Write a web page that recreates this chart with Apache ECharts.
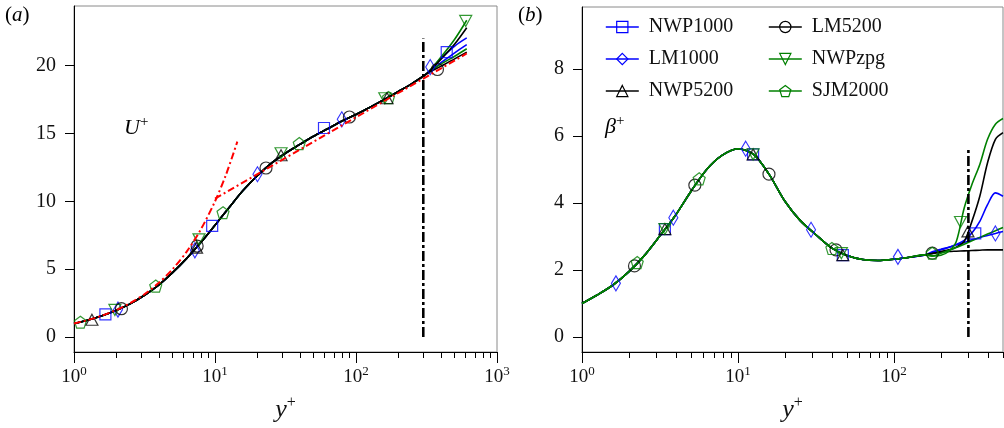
<!DOCTYPE html>
<html><head><meta charset="utf-8">
<script src="https://cdn.jsdelivr.net/npm/echarts@6/dist/echarts.min.js"></script>
<style>html,body{margin:0;padding:0;background:#fff}#c{width:1004px;height:428px}</style>
</head><body><div id="c"></div>
<script>
// ---------------- DATA ----------------
const seriesNames = ['NWP1000', 'LM1000', 'NWP5200', 'LM5200', 'NWPzpg', 'SJM2000'];

// Panel (a): U+ vs y+ (common near-wall part, up to y+ ~ 316)
const yPlusA = [1, 1.26, 1.58, 2, 2.5, 3.16, 4, 5, 6.3, 7.9, 10, 12.6, 15.8, 20, 25, 31.6, 40, 50, 63, 79, 100, 126, 158, 200, 251, 316];
const uPlusBase = [1.0, 1.26, 1.57, 1.98, 2.45, 3.08, 3.85, 4.75, 5.8, 6.95, 8.25, 9.55, 10.8, 11.9, 12.8, 13.55, 14.2, 14.8, 15.35, 15.9, 16.4, 16.95, 17.5, 18.1, 18.7, 19.4];
// Outer parts (y+ > 316)
const tailYA = [398, 501, 610];
const tailUA = {
  NWP1000: [20.5, 21.45, 22.05],
  LM1000:  [20.2, 20.95, 21.55],
  NWP5200: [20.45, 21.6, 22.8],
  LM5200:  [19.95, 20.5, 21.0],
  NWPzpg:  [20.6, 21.95, 23.35],
  SJM2000: [20.1, 20.7, 21.25]
};
// Markers in panel (a)
const markYA = {
  NWP1000: [1.67, 9.55, 59.3, 440],
  LM1000:  [2.05, 7.2, 20, 79.3, 336],
  NWP5200: [1.34, 7.4, 29.4, 166],
  LM5200:  [2.17, 7.47, 23, 89.8, 378],
  NWPzpg:  [1.95, 7.7, 29.4, 160, 600],
  SJM2000: [1.11, 3.8, 11.4, 39.6, 170]
};
const markUA = {
  NWP1000: [1.67, 8.19, 15.41, 21.0],
  LM1000:  [2.02, 6.39, 12.0, 16.05, 19.9],
  NWP5200: [1.28, 6.59, 13.4, 17.6],
  LM5200:  [2.09, 6.71, 12.46, 16.22, 19.72],
  NWPzpg:  [2.0, 7.2, 13.55, 17.6, 23.3],
  SJM2000: [1.1, 3.76, 9.17, 14.26, 17.65]
};
// Red reference lines in (a)
const viscY = [1, 1.26, 1.58, 2, 2.5, 3.16, 4, 5, 6.3, 7.9, 10, 12, 14.4];
const viscU = [1, 1.26, 1.58, 2, 2.5, 3.16, 4, 5, 6.3, 7.9, 10, 12, 14.4];
const logLawY = [10, 610];
const logLawU = [10.2, 20.9];

// Panel (b): beta+ vs y+ (common part, up to y+ ~ 158)
const yPlusB = [1, 1.26, 1.58, 2, 2.5, 3.16, 4, 5, 6.3, 7.9, 10, 12.6, 15.8, 20, 25, 31.6, 40, 50, 63, 79, 100, 126, 158];
const betaBase = [1.0, 1.26, 1.55, 1.95, 2.42, 3.02, 3.65, 4.35, 5.0, 5.42, 5.62, 5.45, 4.86, 4.05, 3.48, 3.05, 2.65, 2.43, 2.31, 2.28, 2.32, 2.38, 2.45];
const tailYB = [178, 200, 224, 251, 282, 316, 355, 398, 447, 500];
const tailBB = {
  NWP1000: [2.52, 2.6, 2.67, 2.76, 2.88, 3.1, 3.45, 3.95, 4.3, 4.2],
  LM1000:  [2.55, 2.62, 2.68, 2.75, 2.82, 2.9, 2.97, 3.03, 3.09, 3.15],
  NWP5200: [2.49, 2.55, 2.6, 2.68, 2.85, 3.45, 4.2, 5.2, 5.9, 6.1],
  LM5200:  [2.5, 2.53, 2.55, 2.56, 2.57, 2.58, 2.59, 2.6, 2.6, 2.6],
  NWPzpg:  [2.42, 2.44, 2.55, 2.85, 3.85, 4.55, 5.15, 5.9, 6.35, 6.52],
  SJM2000: [2.42, 2.5, 2.58, 2.67, 2.77, 2.87, 2.97, 3.07, 3.17, 3.27]
};
const markYB = {
  NWP1000: [3.4, 12.5, 47, 332],
  LM1000:  [1.65, 3.85, 11.2, 29.4, 106, 447],
  NWP5200: [3.4, 12.5, 47, 298],
  LM5200:  [2.17, 5.29, 15.8, 42.5, 176],
  NWPzpg:  [3.4, 12.5, 46, 267],
  SJM2000: [2.26, 5.64, 40, 176]
};
const markBB = {
  NWP1000: [3.22, 5.45, 2.44, 3.09],
  LM1000:  [1.6, 3.56, 5.62, 3.2, 2.39, 3.09],
  NWP5200: [3.22, 5.45, 2.44, 3.15],
  LM5200:  [2.12, 4.53, 4.86, 2.6, 2.5],
  NWPzpg:  [3.22, 5.45, 2.5, 3.43],
  SJM2000: [2.22, 4.72, 2.64, 2.5]
};
// Vertical dash-dot lines at y+ = 300
const vLineX = [300, 300];
const vLineA = [0, 22];
const vLineB = [0, 5.65];

// Axis ticks
const xMajorA = [1, 10, 100, 1000];
const xMinorA = [2, 3, 4, 5, 6, 7, 8, 9, 20, 30, 40, 50, 60, 70, 80, 90, 200, 300, 400, 500, 600, 700, 800, 900];
const xMajorB = [1, 10, 100];
const xMinorB = [2, 3, 4, 5, 6, 7, 8, 9, 20, 30, 40, 50, 60, 70, 80, 90, 200, 300, 400, 500];
const yTicksA = [0, 5, 10, 15, 20];
const yTicksB = [0, 2, 4, 6, 8];

// ---------------- STYLE ----------------
const FONT = 'Liberation Serif';
const colors = { NWP1000: '#0000ff', LM1000: '#0000ff', NWP5200: '#000000', LM5200: '#000000', NWPzpg: '#008000', SJM2000: '#008000' };
const pent = 'path://M0,-1 L0.951,-0.309 L0.588,0.809 L-0.588,0.809 L-0.951,-0.309 Z';
const symbols = { NWP1000: 'rect', LM1000: 'diamond', NWP5200: 'triangle', LM5200: 'circle', NWPzpg: 'triangle', SJM2000: pent };
const symRot = { NWP1000: 0, LM1000: 0, NWP5200: 0, LM5200: 0, NWPzpg: 180, SJM2000: 0 };
const symSize = { NWP1000: [11, 11], LM1000: [9, 15], NWP5200: [12, 11], LM5200: [12, 12], NWPzpg: [12, 11], SJM2000: [12, 12] };

function zip(xs, ys) { return xs.map((x, i) => [x, ys[i]]); }

const series = [];
function addPanel(xIdx, yIdx, baseX, baseY, tX, tY, mX, mY, order) {
  order.forEach(n => {
    series.push({
      type: 'line', name: n, xAxisIndex: xIdx, yAxisIndex: yIdx,
      data: zip(baseX.concat(tX), baseY.concat(tY[n])),
      showSymbol: false, symbol: symbols[n], symbolRotate: symRot[n],
      smooth: 0.3,
      lineStyle: { color: colors[n], width: 1.6 },
      itemStyle: { color: 'none', borderColor: colors[n], borderWidth: 1.2 },
      emphasis: { disabled: true }, silent: true, z: 3
    });
  });
  order.forEach(n => {
    series.push({
      type: 'scatter', name: n, xAxisIndex: xIdx, yAxisIndex: yIdx,
      data: zip(mX[n], mY[n]),
      symbol: symbols[n], symbolRotate: symRot[n], symbolSize: symSize[n],
      itemStyle: { color: 'none', borderColor: colors[n], borderWidth: 1.2 },
      emphasis: { disabled: true }, silent: true, z: 4
    });
  });
}
addPanel(0, 0, yPlusA, uPlusBase, tailYA, tailUA, markYA, markUA,
  ['NWP1000', 'LM1000', 'NWPzpg', 'SJM2000', 'NWP5200', 'LM5200']);
addPanel(2, 1, yPlusB, betaBase, tailYB, tailBB, markYB, markBB,
  ['NWP1000', 'LM1000', 'NWP5200', 'LM5200', 'NWPzpg', 'SJM2000']);

const dashRed = { color: '#ff0000', width: 2, type: [7, 3, 2, 3] };
const dashBlack = { color: '#000', width: 2.6, type: [10, 3, 3, 3] };
series.push({ type: 'line', name: 'viscous', xAxisIndex: 0, yAxisIndex: 0, data: zip(viscY, viscU), symbol: 'none', smooth: 0.3,
  lineStyle: dashRed, silent: true, z: 5 });
series.push({ type: 'line', name: 'loglaw', xAxisIndex: 0, yAxisIndex: 0, data: zip(logLawY, logLawU), symbol: 'none',
  lineStyle: dashRed, silent: true, z: 5 });
series.push({ type: 'line', name: 'vA', xAxisIndex: 0, yAxisIndex: 0, data: zip(vLineX, vLineA), symbol: 'none',
  lineStyle: dashBlack, silent: true, z: 6 });
series.push({ type: 'line', name: 'vB', xAxisIndex: 2, yAxisIndex: 1, data: zip(vLineX, vLineB), symbol: 'none',
  lineStyle: dashBlack, silent: true, z: 6 });

const supRich = {
  b: { fontFamily: FONT, fontSize: 19, color: '#111', lineHeight: 22, verticalAlign: 'bottom' },
  s: { fontFamily: FONT, fontSize: 13, color: '#111', lineHeight: 13, verticalAlign: 'top' }
};
const nameRich = {
  i: { fontFamily: FONT, fontStyle: 'italic', fontSize: 26, color: '#111', lineHeight: 28, verticalAlign: 'bottom' },
  s: { fontFamily: FONT, fontSize: 16, color: '#111', lineHeight: 16, verticalAlign: 'top' }
};

function xMain(grid, min, max, major) {
  return {
    type: 'log', logBase: 10, gridIndex: grid, min: min, max: max, position: 'bottom',
    axisLine: { show: true, onZero: false, lineStyle: { color: '#000', width: 1 } },
    axisTick: { show: true, length: 11, customValues: major, lineStyle: { color: '#000', width: 1 } },
    axisLabel: { show: true, customValues: major, margin: 13, color: '#111',
      formatter: v => '{b|10}{s|' + Math.round(Math.log10(v)) + '}', rich: supRich },
    splitLine: { show: false }, minorTick: { show: false },
    name: '{i|y}{s|+}', nameLocation: 'middle', nameGap: 43,
    nameTextStyle: { rich: nameRich }
  };
}
function xMinor(grid, min, max, minor) {
  return {
    type: 'log', logBase: 10, gridIndex: grid, min: min, max: max, position: 'bottom',
    axisLine: { show: false, onZero: false },
    axisTick: { show: true, length: 6, customValues: minor, lineStyle: { color: '#000', width: 1 } },
    axisLabel: { show: false }, splitLine: { show: false }
  };
}
function yMain(grid, min, max, ticks) {
  return {
    type: 'value', gridIndex: grid, min: min, max: max, position: 'left',
    axisLine: { show: true, onZero: false, lineStyle: { color: '#000', width: 1 } },
    axisTick: { show: true, length: 9, customValues: ticks, lineStyle: { color: '#000', width: 1 } },
    axisLabel: { show: true, customValues: ticks, margin: 18, fontFamily: FONT, fontSize: 20, color: '#111' },
    splitLine: { show: false }
  };
}

const legendCommon = {
  orient: 'vertical', itemWidth: 33, itemHeight: 14, itemGap: 12, padding: 0,
  textStyle: { fontFamily: FONT, fontSize: 20, color: '#111', lineHeight: 20, padding: [0, 0, 0, 5] },
  selectedMode: false
};
function legendData(names) {
  return names.map(n => ({ name: n, itemStyle: { color: 'none', borderColor: colors[n], borderWidth: 1.2 },
    lineStyle: { color: colors[n], width: 1.6 } }));
}

const rich3 = {
  n: { fontFamily: FONT, fontSize: 21, color: '#111' },
  i: { fontFamily: FONT, fontStyle: 'italic', fontSize: 21, color: '#111' }
};
const richLbl = {
  i: { fontFamily: FONT, fontStyle: 'italic', fontSize: 22, color: '#111', lineHeight: 24, verticalAlign: 'bottom' },
  s: { fontFamily: FONT, fontSize: 15, color: '#111', lineHeight: 15, verticalAlign: 'top' }
};

const option = {
  animation: false,
  backgroundColor: '#fff',
  grid: [
    { left: 74, top: 6, width: 423, height: 346, show: true, borderColor: '#8a8a8a', borderWidth: 1, containLabel: false },
    { left: 582, top: 7, width: 421, height: 345, show: true, borderColor: '#8a8a8a', borderWidth: 1, containLabel: false }
  ],
  xAxis: [
    xMain(0, 1, 1000, xMajorA), xMinor(0, 1, 1000, xMinorA),
    xMain(1, 1, 500, xMajorB), xMinor(1, 1, 500, xMinorB)
  ],
  yAxis: [ yMain(0, -1.1, 24.4, yTicksA), yMain(1, -0.45, 9.85, yTicksB) ],
  legend: [
    Object.assign({ left: 605, top: 17, data: legendData(['NWP1000', 'LM1000', 'NWP5200']) }, legendCommon),
    Object.assign({ left: 768, top: 17, data: legendData(['LM5200', 'NWPzpg', 'SJM2000']) }, legendCommon)
  ],
  graphic: [
    { type: 'text', left: 5, top: 5, style: { text: '{n|(}{i|a}{n|)}', rich: rich3 } },
    { type: 'text', left: 518, top: 5, style: { text: '{n|(}{i|b}{n|)}', rich: rich3 } },
    { type: 'text', left: 124, top: 115, style: { text: '{i|U}{s|+}', rich: richLbl } },
    { type: 'text', left: 605, top: 114, style: { text: '{i|β}{s|+}', rich: richLbl } }
  ],
  series: series
};

const chart = echarts.init(document.getElementById('c'), null, { renderer: 'canvas' });
chart.setOption(option);
</script></body></html>
